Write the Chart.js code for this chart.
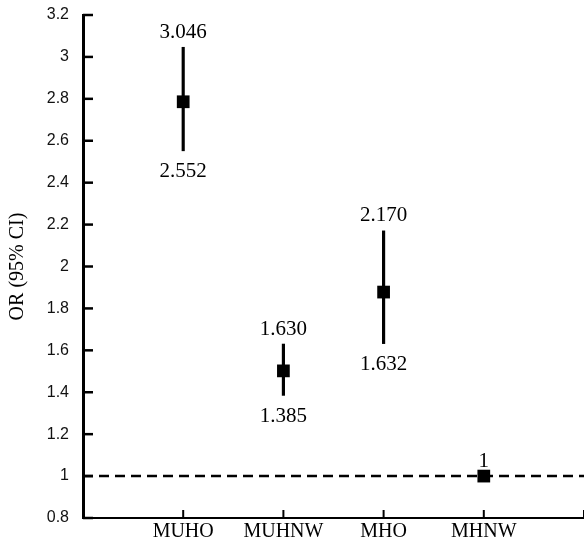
<!DOCTYPE html>
<html>
<head>
<meta charset="utf-8">
<script src="https://cdn.jsdelivr.net/npm/chart.js@4/dist/chart.umd.min.js"></script>
<style>
  html, body { margin: 0; padding: 0; background: #fff; overflow: hidden; }
  #wrap { width: 584px; height: 545px; position: relative; }
</style>
</head>
<body>
<div id="wrap"><canvas id="orChart"></canvas></div>
<script>
// groups and odds ratios with 95% CI
const categories = ['MUHO', 'MUHNW', 'MHO', 'MHNW'];
const orValues = [2.786, 1.502, 1.878, 1];
const lowerCI = [2.552, 1.385, 1.632, null];
const upperCI = [3.046, 1.630, 2.170, null];
const upperText = ['3.046', '1.630', '2.170', '1'];
const lowerText = ['2.552', '1.385', '1.632', ''];
const refLine = 1;
const yTicks = [0.8, 1, 1.2, 1.4, 1.6, 1.8, 2, 2.2, 2.4, 2.6, 2.8, 3, 3.2];

const serif = "'Liberation Serif', 'Times New Roman', serif";
const sans = "'Liberation Sans', Arial, sans-serif";

// x positions: category i sits at i + 1 on a 0..5 axis
const xPos = categories.map((c, i) => i + 1);

// ticks drawn inward, like the original figure
const innerTicks = {
    id: 'innerTicks',
    afterDraw(chart) {
        const { ctx, chartArea, scales } = chart;
        ctx.save();
        ctx.strokeStyle = '#000';
        ctx.lineWidth = 2.5;
        scales.y.ticks.forEach(t => {
            const y = scales.y.getPixelForValue(t.value);
            ctx.beginPath();
            ctx.moveTo(chartArea.left, y);
            ctx.lineTo(chartArea.left + 10, y);
            ctx.stroke();
        });
        ctx.lineWidth = 2;
        scales.x.ticks.forEach(t => {
            if (t.value === 0) return;
            const x = scales.x.getPixelForValue(t.value);
            ctx.beginPath();
            ctx.moveTo(x, chartArea.bottom);
            ctx.lineTo(x, chartArea.bottom - 8);
            ctx.stroke();
        });
        ctx.restore();
    }
};

// CI value labels above and below each bar
const ciLabels = {
    id: 'ciLabels',
    afterDatasetsDraw(chart) {
        const { ctx, scales } = chart;
        ctx.save();
        ctx.fillStyle = '#000';
        ctx.font = '21px ' + serif;
        ctx.textAlign = 'center';
        ctx.textBaseline = 'middle';
        categories.forEach((c, i) => {
            const x = scales.x.getPixelForValue(xPos[i]);
            const top = upperCI[i] != null ? upperCI[i] : orValues[i];
            const bottom = lowerCI[i] != null ? lowerCI[i] : orValues[i];
            ctx.fillText(upperText[i], x, scales.y.getPixelForValue(top) - 15);
            if (lowerText[i]) {
                ctx.fillText(lowerText[i], x, scales.y.getPixelForValue(bottom) + 21);
            }
        });
        ctx.restore();
    }
};

new Chart(document.getElementById('orChart'), {
    type: 'scatter',
    data: {
        datasets: [
            {
                type: 'scatter',
                data: xPos.map((x, i) => ({ x: x, y: orValues[i] })),
                pointStyle: 'rect',
                pointRadius: 9,
                backgroundColor: '#000',
                borderColor: '#000',
                borderWidth: 0,
                order: 0
            },
            {
                type: 'bar',
                data: xPos.map((x, i) => ({ x: x, y: lowerCI[i] != null ? [lowerCI[i], upperCI[i]] : null }))
                    .filter(d => d.y),
                backgroundColor: '#000',
                borderWidth: 0,
                barThickness: 2.5,
                grouped: false,
                order: 1
            },
            {
                type: 'line',
                data: [{ x: 0, y: refLine }, { x: 5, y: refLine }],
                borderColor: '#000',
                borderWidth: 2.5,
                borderDash: [10, 6],
                pointRadius: 0,
                fill: false,
                order: 2
            }
        ]
    },
    options: {
        responsive: true,
        maintainAspectRatio: false,
        animation: false,
        layout: { autoPadding: false, padding: { top: 15, right: 0, bottom: 0, left: 0 } },
        plugins: {
            legend: { display: false },
            tooltip: { enabled: false }
        },
        scales: {
            x: {
                type: 'linear',
                min: 0,
                max: 5,
                offset: false,
                grid: { display: true, drawOnChartArea: false, drawTicks: false, offset: false },
                border: { display: true, color: '#000', width: 2 },
                ticks: {
                    stepSize: 1,
                    autoSkip: false,
                    maxRotation: 0,
                    padding: 2,
                    color: '#000',
                    font: { family: serif, size: 20 },
                    callback: (v) => categories[v - 1] || ''
                },
                afterFit: (scale) => {
                    scale.height = 27;
                    scale.paddingLeft = 0;
                    scale.paddingRight = 0;
                }
            },
            y: {
                min: 0.8,
                max: 3.2,
                grid: { display: true, drawOnChartArea: false, drawTicks: false },
                border: { display: true, color: '#000', width: 3 },
                afterBuildTicks: (scale) => { scale.ticks = yTicks.map(v => ({ value: v })); },
                ticks: {
                    padding: 14,
                    color: '#111',
                    font: { family: sans, size: 16 },
                    callback: (v) => String(Math.round(v * 10) / 10)
                },
                title: {
                    display: true,
                    text: 'OR (95% CI)',
                    color: '#000',
                    font: { family: serif, size: 20 },
                    padding: { top: 6, bottom: 0 }
                },
                afterFit: (scale) => {
                    scale.width = 83;
                    scale.paddingTop = 0;
                    scale.paddingBottom = 0;
                }
            }
        }
    },
    plugins: [innerTicks, ciLabels]
});
</script>
</body>
</html>
